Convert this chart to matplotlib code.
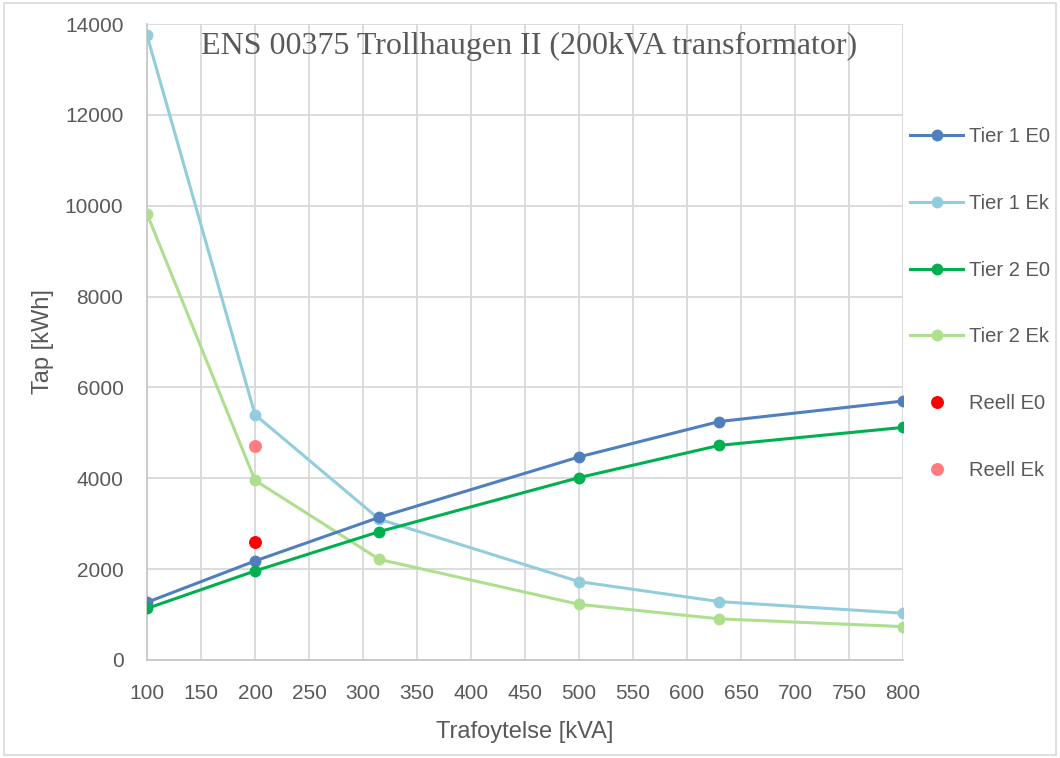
import numpy as np
import matplotlib.pyplot as plt
from matplotlib.patches import Rectangle

# transformer ratings [kVA]
kva = [100, 200, 315, 500, 630, 800]

# annual losses [kWh]
tier1_e0 = [1270, 2180, 3140, 4470, 5250, 5700]
tier1_ek = [13750, 5400, 3100, 1725, 1285, 1030]
tier2_e0 = [1135, 1960, 2825, 4015, 4725, 5120]
tier2_ek = [9820, 3955, 2215, 1225, 905, 735]

# measured values for the installed 200 kVA unit
reell_kva = [200]
reell_e0 = [2600]
reell_ek = [4700]

grey = "#595959"
plt.rcParams["font.family"] = ["Liberation Sans", "DejaVu Sans"]

fig = plt.figure(figsize=(10.6, 7.58), dpi=100)
ax = fig.add_axes([0.1387, 0.1293, 0.7132, 0.839])

lw = 2.2
ms = 7.5
ax.plot(kva, tier1_e0, color="#4f7fbf", lw=lw, marker="o", ms=ms, label="Tier 1 E0", zorder=4)
ax.plot(kva, tier1_ek, color="#92cddc", lw=lw, marker="o", ms=ms, label="Tier 1 Ek", zorder=3)
ax.plot(kva, tier2_e0, color="#00b050", lw=lw, marker="o", ms=ms, label="Tier 2 E0", zorder=4)
ax.plot(kva, tier2_ek, color="#addf8e", lw=lw, marker="o", ms=ms, label="Tier 2 Ek", zorder=3)
ax.plot(reell_kva, reell_e0, ls="none", color="#ff0000", marker="o", ms=ms + 0.8, label="Reell E0", zorder=5)
ax.plot(reell_kva, reell_ek, ls="none", color="#ff7c80", marker="o", ms=ms + 0.8, label="Reell Ek", zorder=5)

ax.set_xlim(100, 800)
ax.set_ylim(0, 14000)
ax.set_xticks(np.arange(100, 801, 50))
ax.set_yticks(np.arange(0, 14001, 2000))
ax.grid(True, color="#d9d9d9", lw=1.3)
ax.set_axisbelow(True)
ax.tick_params(length=0, labelsize=15, labelcolor=grey)
ax.tick_params(axis="y", pad=17)
ax.tick_params(axis="x", pad=17.5)
for side in ["top", "right"]:
    ax.spines[side].set_visible(False)
for side in ["left", "bottom"]:
    ax.spines[side].set_color("#c8c8c8")
    ax.spines[side].set_linewidth(1.3)

ax.set_xlabel("Trafoytelse [kVA]", fontsize=17, color=grey, labelpad=13)
ax.set_ylabel("Tap [kWh]", fontsize=17, color=grey, labelpad=7.5)

ax.text(0.505, 0.965, "ENS 00375 Trollhaugen II (200kVA transformator)",
        transform=ax.transAxes, ha="center", va="center",
        family="Liberation Serif", fontsize=23, color=grey)

fig.legend(loc="upper left", bbox_to_anchor=(0.8417, 0.856), frameon=False,
           fontsize=14.5, labelcolor=grey, labelspacing=2.37, handlelength=2.6,
           handletextpad=0.3)

fig.add_artist(Rectangle((0.004, 0.004), 0.992, 0.992, transform=fig.transFigure,
                         fill=False, edgecolor="#d9d9d9", lw=1.2))

fig.savefig("out.png", dpi=100)
